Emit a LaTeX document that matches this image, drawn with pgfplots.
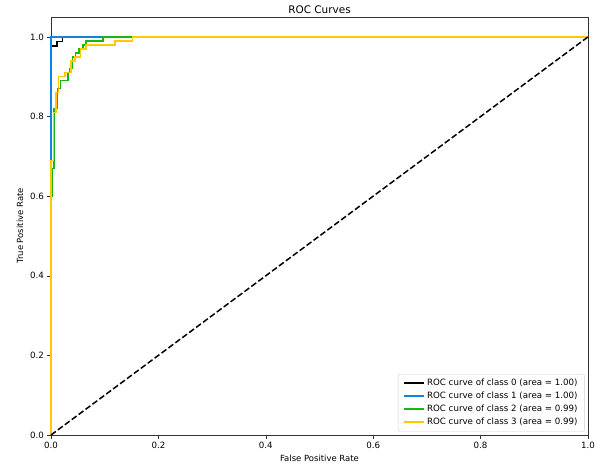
\documentclass[border=0pt]{standalone}
\usepackage{fontspec}
\setmainfont{DejaVu Sans}
\usepackage{pgfplots}
\pgfplotsset{compat=1.18}
\definecolor{cblue}{RGB}{16,132,224}
\definecolor{cgreen}{RGB}{20,185,20}
\definecolor{cyellow}{RGB}{255,200,0}
\begin{document}
\begin{tikzpicture}
\begin{axis}[
  name=ax,
  scale only axis,
  width=537bp, height=418bp,
  xmin=0, xmax=1, ymin=0, ymax=1.05,
  clip=false,
  title={ROC Curves},
  title style={font=\fontsize{10.5}{12}\selectfont, yshift=-6bp},
  xlabel={False Positive Rate},
  ylabel={True Positive Rate},
  label style={font=\fontsize{8.5}{10}\selectfont},
  xlabel style={yshift=0bp},
  ylabel style={yshift=0bp},
  xtick={0,0.2,0.4,0.6,0.8,1.0},
  ytick={0,0.2,0.4,0.6,0.8,1.0},
  tick label style={font=\fontsize{8.7}{10}\selectfont},
  xticklabel style={/pgf/number format/.cd, fixed, fixed zerofill, precision=1},
  yticklabel style={/pgf/number format/.cd, fixed, fixed zerofill, precision=1},
  /pgf/number format/assume math mode=true,
  tick align=outside,
  tick pos=left,
  major tick length=3.5bp,
  axis line style={black!80},
  every tick/.style={black!80},
  legend style={at={(0.994,0.008)}, anchor=south east,
    font=\fontsize{8.7}{10}\selectfont, draw=black!18, rounded corners=2pt,
    row sep=1pt, inner xsep=5pt, inner ysep=3pt},
  legend cell align=left,
  legend image code/.code={\draw[#1, line width=2pt] (0bp,0bp) -- (20bp,0bp);},
]
\addplot[black, line width=1.5pt] coordinates {
(0,0)(0,0.977)(0.011,0.977)(0.011,0.988)(0.021,0.988)(0.021,1)(1,1)};
\addplot[cblue, line width=1.5pt] coordinates {
(0,0)(0,1)(1,1)};
\addplot[cgreen, line width=1.5pt] coordinates {
(0,0)(0,0.6)(0.003,0.6)(0.003,0.67)(0.006,0.67)(0.006,0.82)(0.012,0.82)
(0.012,0.87)(0.018,0.87)(0.018,0.89)(0.032,0.89)(0.032,0.91)(0.035,0.91)
(0.035,0.92)(0.04,0.92)(0.04,0.95)(0.046,0.95)(0.046,0.96)(0.052,0.96)
(0.052,0.97)(0.06,0.97)(0.06,0.98)(0.065,0.98)(0.065,0.99)(0.097,0.99)
(0.097,1)(1,1)};
\addplot[cyellow, line width=1.5pt] coordinates {
(0,0)(0,0.69)(0.005,0.69)(0.005,0.81)(0.009,0.81)(0.009,0.86)(0.014,0.86)
(0.014,0.90)(0.026,0.90)(0.026,0.91)(0.037,0.91)(0.037,0.94)(0.045,0.94)
(0.045,0.95)(0.055,0.95)(0.055,0.97)(0.065,0.97)(0.065,0.98)(0.119,0.98)
(0.119,0.99)(0.152,0.99)(0.152,1)(1,1)};
\addplot[black, line width=1.5pt, dash pattern=on 6bp off 2.6bp, forget plot] coordinates {
(0,0)(1,1)};
\legend{ROC curve of class 0 (area = 1.00),
ROC curve of class 1 (area = 1.00),
ROC curve of class 2 (area = 0.99),
ROC curve of class 3 (area = 0.99)}
\end{axis}
\path ([xshift=-51bp,yshift=-34bp]ax.south west) rectangle ([xshift=14bp,yshift=17bp]ax.north east);
\end{tikzpicture}
\end{document}
